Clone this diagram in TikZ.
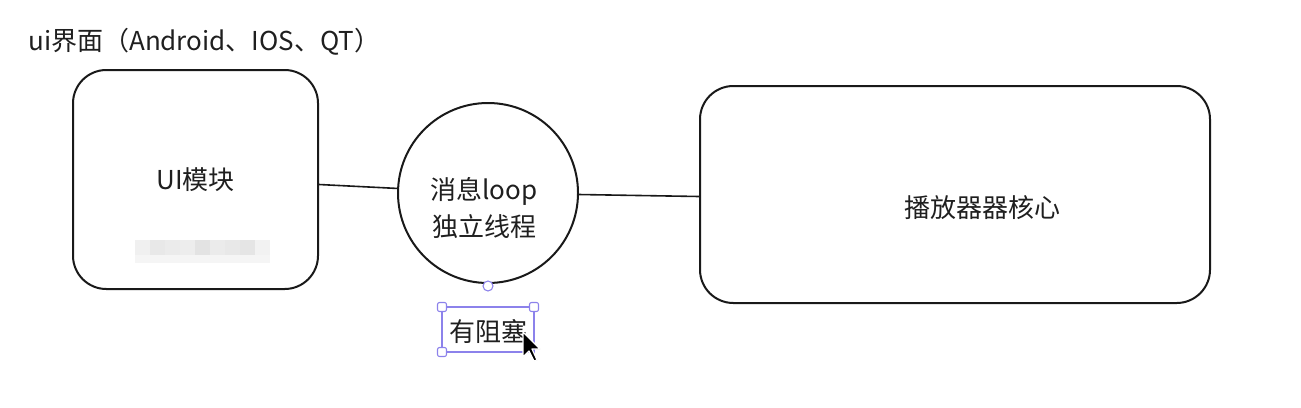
\documentclass[tikz,border=0pt]{standalone}
\usepackage{fontspec}
\usepackage{xcolor}
\newfontfamily\cjk{Noto Sans CJK SC}
\definecolor{selviolet}{RGB}{140,130,235}
\tikzset{
  txt/.style={font=\cjk\fontsize{19.5}{27.5}\selectfont, text=black!88, inner sep=0pt},
  modbox/.style={draw=black!90, line width=1.5pt, rounded corners=25pt, fill=white},
  handle/.style={draw=selviolet, fill=white, line width=0.8pt, rounded corners=1.5pt,
    minimum size=6.75pt, inner sep=0pt},
}
\begin{document}
\begin{tikzpicture}[x=0.75pt,y=-0.75pt]
\useasboundingbox (0,0) rectangle (1301,407);

% titre
\node[txt, anchor=west] (title) at (28,42) {ui界面（Android、IOS、QT）};

% module UI
\node[modbox, txt, minimum width=183.75pt, minimum height=164.25pt] (ui) at (195.5,179.5) {UI模块};
\foreach \i/\s in {0/6,1/9,2/8,3/7,4/11,5/8,6/9,7/10,8/5} {
  \fill[black!\s] (135+15*\i,240) rectangle (150+15*\i,255);
  \fill[black!4] (135+15*\i,255) rectangle (150+15*\i,263);
}

% boucle de messages
\node[draw=black!90, circle, line width=1.5pt, minimum size=135pt, inner sep=0pt] (loop) at (488,193) {};
\node[txt, align=center] (looptxt) at (484,208) {消息loop\\独立线程};

% coeur du lecteur
\node[modbox, minimum width=382.5pt, minimum height=162.75pt] (core) at (955,194.5) {};
\node[txt] (coretxt) at (982,208) {播放器器核心};

\draw[black!90, line width=1.2pt] ([yshift=-3.75pt]ui.east) -- (loop);
\draw[black!90, line width=1.2pt] (loop) -- ([yshift=-1.5pt]core.west);

% selection
\node[txt] (block) at (488,332) {有阻塞};
\draw[selviolet, line width=0.8pt] (442,307) rectangle (534,352);
\node[handle] (h1) at (442,307) {};
\node[handle] (h2) at (534,307) {};
\node[handle] (h3) at (442,352) {};
\node[draw=selviolet, fill=white, circle, line width=0.8pt, minimum size=7.5pt, inner sep=0pt] (rot) at (488,286) {};

% curseur
\draw[white, fill=black, line width=0.9pt, line join=round]
  (523,332) -- (523,357) -- (529,351) -- (534,361) -- (537,360) -- (532,349) -- (540,349) -- cycle;
\end{tikzpicture}
\end{document}
